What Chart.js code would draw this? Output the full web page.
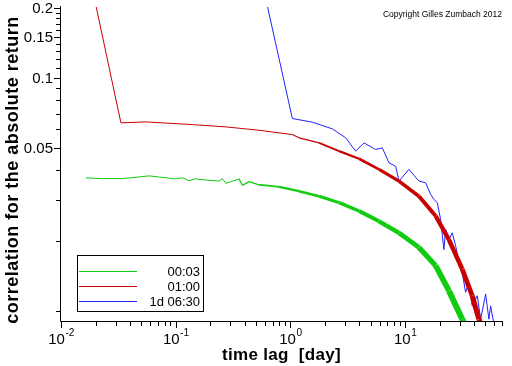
<!DOCTYPE html>
<html>
<head>
<meta charset="utf-8">
<script src="https://cdn.jsdelivr.net/npm/chart.js@4"></script>
<style>
  html, body { margin: 0; padding: 0; background: #fff; }
  #wrap { width: 512px; height: 366px; }
</style>
</head>
<body>
<div id="wrap"><canvas id="corr-chart" width="512" height="366"></canvas></div>
<script>
// time lag [day] and correlation values
const greenLag = [0.0165, 0.0229, 0.0344, 0.0588, 0.100, 0.1146, 0.1311, 0.150, 0.160, 0.239, 0.2557, 0.274, 0.357, 0.382, 0.4365, 0.533, 0.611, 0.798, 1.19, 1.78, 2.66, 3.97, 5.93, 8.85, 13.2, 18.5, 24.1, 31.5, 36.0];
const greenCorr = [0.0372, 0.0369, 0.0369, 0.0379, 0.0368, 0.0372, 0.0361, 0.0369, 0.0366, 0.0360, 0.0369, 0.0352, 0.0368, 0.0345, 0.0358, 0.0347, 0.0345, 0.0340, 0.0326, 0.0310, 0.0291, 0.0268, 0.0242, 0.0216, 0.0187, 0.0156, 0.0122, 0.0092, 0.0080];

const redLag = [0.0197, 0.0333, 0.055, 0.140, 0.274, 0.533, 1.04, 1.19, 1.78, 2.66, 3.97, 5.93, 8.85, 13.2, 18.5, 24.1, 31.5, 38.5, 44.0, 49.7];
const redCorr = [0.215, 0.0640, 0.0646, 0.0629, 0.0615, 0.0595, 0.0570, 0.0552, 0.0525, 0.0484, 0.0449, 0.0404, 0.0360, 0.0310, 0.0255, 0.0202, 0.0151, 0.0116, 0.0092, 0.0080];

const blueLag = [0.614, 1.04, 1.56, 2.32, 3.04, 3.71, 4.39, 5.54, 6.33, 7.24, 8.28, 8.85, 10.8, 13.2, 15.1, 16.7, 17.9, 19.1, 20.4, 21.8, 22.6, 24.1, 25.8, 27.6, 29.5, 31.5, 33.7, 36.0, 38.5, 42.6, 45.6, 50.4, 53.8, 55.7, 59.4];
const blueCorr = [0.215, 0.0668, 0.0644, 0.0603, 0.0552, 0.0484, 0.0525, 0.0492, 0.0500, 0.0431, 0.0417, 0.0360, 0.0404, 0.0360, 0.0354, 0.0316, 0.0300, 0.0291, 0.0247, 0.0183, 0.0223, 0.0202, 0.0216, 0.0190, 0.0161, 0.0146, 0.0120, 0.0132, 0.0105, 0.0116, 0.0092, 0.0118, 0.0092, 0.0105, 0.0088];

const seriesLabels = ['00:03', '01:00', '1d 06:30'];

// axis ticks
const xMajorTicks = [0.01, 0.1, 1, 10];
const xMajorExp = ['-2', '-1', '0', '1'];
const xMinorTicks = [0.02, 0.03, 0.04, 0.05, 0.06, 0.07, 0.08, 0.09, 0.2, 0.3, 0.4, 0.5, 0.6, 0.7, 0.8, 0.9, 2, 3, 4, 5, 6, 7, 8, 9, 20, 30, 40, 50, 60, 70];
const yMajorTicks = [0.2, 0.15, 0.1, 0.05];
const yMajorLabels = ['0.2', '0.15', '0.1', '0.05'];
const yMinorTicks = [0.19, 0.18, 0.17, 0.16, 0.14, 0.13, 0.12, 0.11, 0.09, 0.08, 0.07, 0.06, 0.04, 0.03, 0.02, 0.01];

function toPoints(xs, ys) {
    return xs.map((x, i) => ({ x: x, y: ys[i] }));
}

// the noisy tails look like a thick band: widen the stroke with the lag
function bandWidth(start, gain, cap) {
    return ctx => {
        const t = ctx.p0.parsed.x;
        if (t <= start) return 1;
        return Math.min(cap, 1 + gain * Math.log10(t / start));
    };
}

const FONT = '"Liberation Sans", Arial, sans-serif';

const decorPlugin = {
    id: 'decor',
    afterDraw(chart) {
        const ctx = chart.ctx;
        const xs = chart.scales.x, ys = chart.scales.y;
        const area = chart.chartArea;
        ctx.save();
        ctx.strokeStyle = '#000';
        ctx.fillStyle = '#000';
        ctx.lineWidth = 1;

        // axis lines
        ctx.beginPath();
        ctx.moveTo(area.left - 0.5, area.top - 1);
        ctx.lineTo(area.left - 0.5, area.bottom + 0.5);
        ctx.lineTo(area.right, area.bottom + 0.5);
        ctx.stroke();

        // tick marks
        ctx.beginPath();
        yMajorTicks.forEach(v => {
            const y = Math.round(ys.getPixelForValue(v)) + 0.5;
            ctx.moveTo(area.left - 7, y); ctx.lineTo(area.left, y);
        });
        yMinorTicks.forEach(v => {
            const y = Math.round(ys.getPixelForValue(v)) + 0.5;
            ctx.moveTo(area.left - 5, y); ctx.lineTo(area.left, y);
        });
        xMajorTicks.forEach(v => {
            const x = Math.round(xs.getPixelForValue(v)) + 0.5;
            ctx.moveTo(x, area.bottom); ctx.lineTo(x, area.bottom + 7);
        });
        xMinorTicks.forEach(v => {
            const x = Math.round(xs.getPixelForValue(v)) + 0.5;
            ctx.moveTo(x, area.bottom); ctx.lineTo(x, area.bottom + 5);
        });
        ctx.stroke();

        // y tick labels
        ctx.font = '15px ' + FONT;
        ctx.textAlign = 'right';
        ctx.textBaseline = 'middle';
        yMajorTicks.forEach((v, i) => {
            ctx.fillText(yMajorLabels[i], area.left - 8, ys.getPixelForValue(v) + 1);
        });

        // x tick labels: 10 with raised exponent
        ctx.textAlign = 'left';
        ctx.textBaseline = 'alphabetic';
        xMajorTicks.forEach((v, i) => {
            ctx.font = '15px ' + FONT;
            const wBase = ctx.measureText('10').width;
            ctx.font = '10px ' + FONT;
            const wExp = ctx.measureText(xMajorExp[i]).width;
            const x0 = xs.getPixelForValue(v) - (wBase + wExp) / 2;
            ctx.font = '15px ' + FONT;
            ctx.fillText('10', x0, 344);
            ctx.font = '10px ' + FONT;
            ctx.fillText(xMajorExp[i], x0 + wBase + 0.5, 336);
        });

        // axis titles
        ctx.font = 'bold 17px ' + FONT;
        ctx.letterSpacing = '0.3px';
        ctx.textAlign = 'center';
        ctx.fillText('time lag  [day]', (area.left + area.right) / 2, 360);
        ctx.save();
        ctx.font = 'bold 18px ' + FONT;
        ctx.letterSpacing = '0.5px';
        ctx.translate(13, 170);
        ctx.rotate(-Math.PI / 2);
        ctx.textBaseline = 'middle';
        ctx.fillText('correlation for the absolute return', 0, 0);
        ctx.restore();
        ctx.letterSpacing = '0px';

        // copyright
        ctx.font = '8.5px ' + FONT;
        ctx.textAlign = 'right';
        ctx.fillText('Copyright Gilles Zumbach 2012', 502, 17);

        // legend box
        const lx = 77, ly = 255, lw = 126, lh = 56;
        ctx.fillStyle = '#fff';
        ctx.fillRect(lx, ly, lw, lh);
        ctx.strokeStyle = '#000';
        ctx.strokeRect(lx + 0.5, ly + 0.5, lw, lh);
        ctx.font = '13px ' + FONT;
        ctx.textAlign = 'right';
        ctx.textBaseline = 'middle';
        chart.data.datasets.forEach((ds, i) => {
            const y = 271.5 + i * 15;
            ctx.strokeStyle = ds.borderColor;
            ctx.beginPath();
            ctx.moveTo(79, y); ctx.lineTo(137, y);
            ctx.stroke();
            ctx.fillStyle = '#000';
            ctx.fillText(ds.label, 200, y + 1);
        });
        ctx.restore();
    }
};

new Chart(document.getElementById('corr-chart').getContext('2d'), {
    type: 'line',
    data: {
        datasets: [
            {
                label: seriesLabels[0],
                data: toPoints(greenLag, greenCorr),
                borderColor: '#10cc10',
                borderWidth: 1,
                segment: { borderWidth: bandWidth(0.3, 2.6, 7) },
                clip: 0,
            },
            {
                label: seriesLabels[1],
                data: toPoints(redLag, redCorr),
                borderColor: '#c80000',
                borderWidth: 1,
                segment: { borderWidth: bandWidth(0.9, 2.5, 5.5) },
                clip: 0,
            },
            {
                label: seriesLabels[2],
                data: toPoints(blueLag, blueCorr),
                borderColor: '#2222ff',
                borderWidth: 1,
                clip: 0,
            }
        ]
    },
    options: {
        responsive: false,
        animation: false,
        devicePixelRatio: 1,
        layout: { padding: { left: 61, right: 10, top: 7, bottom: 45 } },
        elements: {
            point: { radius: 0, hoverRadius: 0 },
            line: { tension: 0, borderJoinStyle: 'round', borderCapStyle: 'butt' }
        },
        plugins: { legend: { display: false }, tooltip: { enabled: false } },
        events: [],
        scales: {
            x: { type: 'logarithmic', min: 0.01, max: 70, display: false },
            y: { type: 'logarithmic', min: 0.00904, max: 0.201, display: false }
        }
    },
    plugins: [decorPlugin]
});
</script>
</body>
</html>
